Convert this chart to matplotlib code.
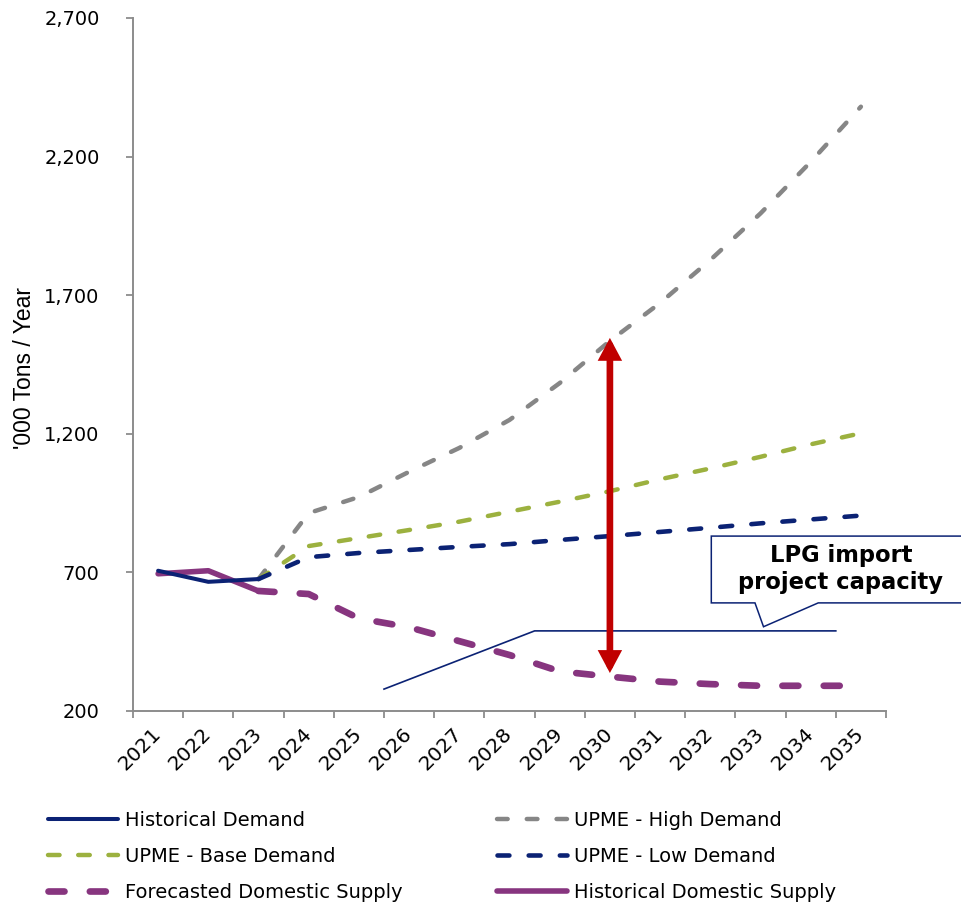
import matplotlib
matplotlib.use("Agg")
import matplotlib.pyplot as plt
from matplotlib.patches import Polygon, FancyArrowPatch
import numpy as np

# ---------------- data ----------------
years = [2021, 2022, 2023, 2024, 2025, 2026, 2027, 2028, 2029, 2030, 2031, 2032, 2033, 2034, 2035]
hist_years = [2021, 2022, 2023]
fc_years = [2023, 2024, 2025, 2026, 2027, 2028, 2029, 2030, 2031, 2032, 2033, 2034, 2035]

historical_demand = [706, 666, 676]
historical_supply = [695, 706, 633]
upme_high = [676, 914, 972, 1063, 1149, 1250, 1383, 1535, 1672, 1827, 1995, 2181, 2380]
upme_base = [676, 795, 824, 853, 883, 919, 955, 993, 1036, 1075, 1117, 1162, 1202]
upme_low = [676, 755, 770, 781, 792, 802, 817, 831, 846, 861, 877, 891, 905]
forecast_supply = [633, 622, 534, 502, 452, 402, 343, 324, 306, 297, 291, 291, 291]

y_ticks = [200, 700, 1200, 1700, 2200, 2700]
y_label = "'000 Tons / Year"

# annotation geometry (data units: year, '000 tons)
capacity_x = [2025.5, 2028.5, 2034.5]
capacity_y = [279, 489, 489]
arrow_x = 2030
arrow_top, arrow_bottom = 1546, 337
callout_x = [2032.02, 2037.2, 2037.2, 2034.15, 2033.06, 2032.89, 2032.02]
callout_y = [831, 831, 590, 590, 504, 590, 590]
callout_text = "LPG import\nproject capacity"
callout_text_pos = (2034.6, 712)

# ---------------- style ----------------
navy = '#0B2274'
grey = '#868686'
green = '#9CB13F'
purple = '#87357F'
red = '#C00000'
spine_c = '#8C8C8C'

plt.rcParams['font.family'] = ['DejaVu Sans']

fig = plt.figure(figsize=(9.62, 9.02), dpi=100)
ax = fig.add_axes([133/962, 1-711/902, (886-133)/962, (711-18)/902])

l_hd, = ax.plot(hist_years, historical_demand, color=navy, lw=2.9, solid_capstyle='round',
                solid_joinstyle='round', zorder=5, label='Historical Demand')
l_hi, = ax.plot(fc_years, upme_high, color=grey, lw=3.2, dashes=(2.4, 4.3),
                dash_capstyle='round', zorder=3, label='UPME - High Demand')
l_ba, = ax.plot(fc_years, upme_base, color=green, lw=3.2, dashes=(2.6, 4.2),
                dash_capstyle='round', zorder=3, label='UPME - Base Demand')
l_lo, = ax.plot(fc_years, upme_low, color=navy, lw=3.3, dashes=(2.6, 4.2),
                dash_capstyle='round', zorder=3, label='UPME - Low Demand')
l_fs, = ax.plot(fc_years, forecast_supply, color=purple, lw=4.8, dashes=(2.4, 3.8),
                dash_capstyle='round', zorder=3, label='Forecasted Domestic Supply')
l_hs, = ax.plot(hist_years, historical_supply, color=purple, lw=4.0, solid_capstyle='round',
                solid_joinstyle='round', zorder=4, label='Historical Domestic Supply')

# capacity line
ax.plot(capacity_x, capacity_y, color=navy, lw=1.2, zorder=4, clip_on=False)

# red double arrow
arr = FancyArrowPatch((arrow_x, arrow_bottom), (arrow_x, arrow_top),
                      arrowstyle='<|-|>,head_length=0.45,head_width=0.24',
                      mutation_scale=20, lw=4.8, color=red, zorder=6,
                      shrinkA=0, shrinkB=0, joinstyle='miter')
ax.add_patch(arr)

# callout
poly = Polygon(np.column_stack([callout_x, callout_y]), closed=True, facecolor='white',
               edgecolor=navy, lw=1.1, zorder=7, clip_on=False)
ax.add_patch(poly)
ax.text(callout_text_pos[0], callout_text_pos[1], callout_text, ha='center', va='center',
        fontsize=16.3, fontweight='bold', color='black', linespacing=1.2, zorder=8,
        clip_on=False)

# axes
ax.set_xlim(years[0] - 0.5, years[-1] + 0.5)
ax.set_ylim(y_ticks[0], y_ticks[-1])
ax.set_yticks(y_ticks)
ax.set_yticklabels([f"{v:,}" for v in y_ticks])
ax.set_xticks(years)
ax.set_xticklabels([str(y) for y in years], rotation=45, ha='right', va='center',
                   rotation_mode='anchor')
ax.set_xticks([y - 0.5 for y in years] + [years[-1] + 0.5], minor=True)
ax.tick_params(axis='x', which='major', length=0, pad=14, labelsize=14.5)
ax.tick_params(axis='x', which='minor', length=5, width=1.3, color=spine_c, direction='out')
ax.tick_params(axis='y', which='major', length=5, width=1.3, color=spine_c, direction='out',
               pad=19, labelsize=14)
for s in ['top', 'right']:
    ax.spines[s].set_visible(False)
for s in ['left', 'bottom']:
    ax.spines[s].set_color(spine_c)
    ax.spines[s].set_linewidth(1.4)

fig.text(25/962, 1-368/902, y_label, rotation=90, ha='center', va='center',
         fontsize=16.5, family=['Liberation Sans', 'DejaVu Sans'])

leg_kw = dict(loc='upper left', frameon=False, fontsize=14, borderpad=0,
              borderaxespad=0, handlelength=3.6, handletextpad=0.36, labelspacing=0.88)
fig.legend([l_hd, l_ba, l_fs], [l.get_label() for l in (l_hd, l_ba, l_fs)],
           bbox_to_anchor=(48/962, 1-811/902), **leg_kw)
fig.legend([l_hi, l_lo, l_hs], [l.get_label() for l in (l_hi, l_lo, l_hs)],
           bbox_to_anchor=(497/962, 1-811/902), **leg_kw)

fig.savefig('out.png', dpi=100)
